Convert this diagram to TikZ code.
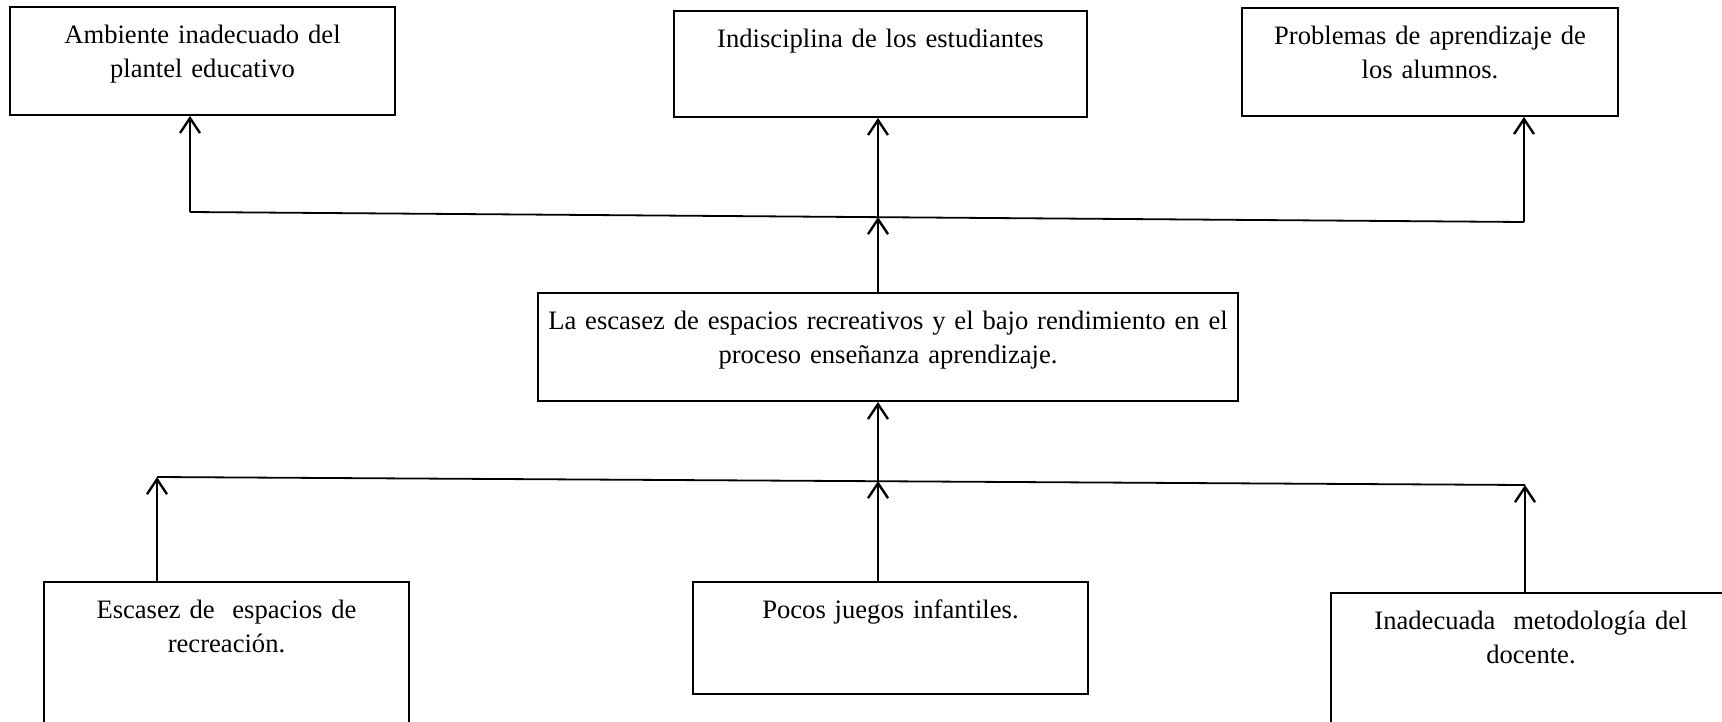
\documentclass[tikz,border=0pt]{standalone}
\usepackage{fontspec}
\setmainfont{Liberation Serif}
\usepackage{tikz}
\usetikzlibrary{arrows.meta, calc}

\begin{document}
\begin{tikzpicture}[x=1pt, y=-1pt,
    caja/.style={draw, line width=1.8pt, align=center, inner sep=0pt, text height=36pt,
        font=\fontsize{26.6}{34.5}\selectfont},
    flecha/.style={-{Straight Barb[length=15pt,width=20pt]}, line width=2.4pt},
    linea/.style={line width=1.8pt}]
                \useasboundingbox (0,0) rectangle (1722,721);
                \clip (0,0) rectangle (1722,721);
                \node[caja, text width=385pt, text depth=72pt] (amb) at (202.5,61) {Ambiente inadecuado del\\plantel educativo};
                \node[caja, text width=413pt, text depth=70pt] (ind) at (880.5,64) {Indisciplina de los estudiantes};
                \node[caja, text width=376pt, text depth=72pt] (prob) at (1430,62) {Problemas de aprendizaje de\\los alumnos.};
                \node[caja, text width=700pt, text depth=72pt] (cen) at (888,347) {La escasez de espacios recreativos y el bajo rendimiento en el\\proceso enseñanza aprendizaje.};
                \node[caja, text width=365pt, text depth=124pt] (esc) at (226.5,662) {Escasez de \ espacios de\\recreación.};
                \node[caja, text width=395pt, text depth=76pt] (poc) at (890.5,638) {Pocos juegos infantiles.};
                \node[caja, text width=400pt, text depth=124pt] (ina) at (1531,673) {Inadecuada \ metodología del\\docente.};
                \coordinate (ti) at (190,212);
                \coordinate (tm) at (878,217);
                \coordinate (td) at (1524,222);
                \coordinate (bi) at (157,477);
                \coordinate (bm) at (878,481);
                \coordinate (bd) at (1525,485);
                \draw[linea] (ti) -- (td);
                \draw[flecha] (ti) -- (ti |- amb.south);
                \draw[flecha] (tm) -- (tm |- ind.south);
                \draw[flecha] (td) -- (td |- prob.south);
                \draw[flecha] (tm |- cen.north) -- (tm);
                \draw[linea] (bi) -- (bd);
                \draw[flecha] (bi |- esc.north) -- (bi);
                \draw[flecha] (bm |- poc.north) -- (bm);
                \draw[flecha] (bd |- ina.north) -- (bd);
                \draw[flecha] (bm) -- (bm |- cen.south);
            \end{tikzpicture}
\end{document}
